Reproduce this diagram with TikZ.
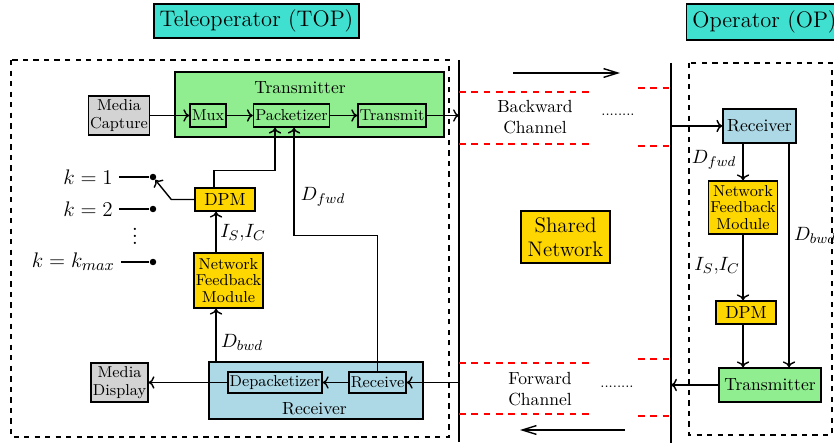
\documentclass[tikz,border=0pt]{standalone}
\usepackage{fontspec}
\usetikzlibrary{arrows.meta}

\definecolor{turq}{HTML}{40E0D0}
\definecolor{txgreen}{HTML}{90EE90}
\definecolor{rxblue}{HTML}{ADD8E6}
\definecolor{gold}{HTML}{FFD700}
\definecolor{mediagrey}{HTML}{D3D3D3}

\begin{document}
\begin{tikzpicture}[x=0.02cm, y=-0.02cm,
  blk/.style={draw, thick, align=center, inner sep=1pt},
  sub/.style={blk, font=\small, minimum height=0.46cm},
  three/.style={font=\fontsize{9}{9.6}\selectfont},
  two/.style={font=\fontsize{9}{10}\selectfont},
  title/.style={draw, thick, fill=turq, font=\fontsize{12.8}{15}\selectfont},
  chan/.style={red, line width=1.1pt, dash pattern=on 3.8pt off 3.2pt},
  flow/.style={thick, ->},
  big/.style={thick, -{Straight Barb[length=8pt,width=5pt]}},
  pin/.style={circle, fill, inner sep=1.3pt},
  lbl/.style={font=\fontsize{11}{13}\selectfont},
  klbl/.style={font=\fontsize{13}{15}\selectfont, anchor=east}]

\useasboundingbox (0,0) rectangle (834,445);

% titles
\node[title, minimum width=4.1cm, minimum height=0.68cm] (top) at (256.5,21) {Teleoperator (TOP)};
\node[title, minimum width=3.1cm, minimum height=0.72cm] (op) at (764.5,22) {Operator (OP)};

% the two sides
\draw[semithick, dashed] (11,60) rectangle (449,437);
\draw[semithick, dashed] (689,63) rectangle (832,435);

% network channel
\coordinate (chLt) at (459,60);
\coordinate (chLb) at (459,442);
\coordinate (chRt) at (671,63);
\coordinate (chRb) at (671,443);
\draw[thick] (chLt) -- (chLb);
\draw[thick] (chRt) -- (chRb);

\foreach \y in {92,144,363,414}
  \draw[chan] (459,\y) -- (593,\y);
\foreach \y in {88,146,359,416}
  \draw[chan] (638,\y) -- (671,\y);

\coordinate (bwA) at (513,73);
\coordinate (bwB) at (620,73);
\coordinate (fwA) at (625,430);
\coordinate (fwB) at (520,430);
\draw[big] (bwA) -- (bwB);
\draw[big] (fwA) -- (fwB);

\node[align=center] (bwch) at (535,117) {Backward\\Channel};
\node[align=center] (fwch) at (540,389) {Forward\\Channel};
\node[font=\footnotesize] (bwdots) at (618,115) {........};
\node[font=\footnotesize] (fwdots) at (617,387) {........};
\node[blk, fill=gold, font=\large, minimum width=1.78cm, minimum height=1.04cm] (net) at (565.5,237) {Shared\\Network};

% teleoperator
\node[blk, fill=txgreen, minimum width=5.38cm, minimum height=1.3cm] (txL) at (309.5,104.5) {};
\node (txLlbl) at (300,88) {Transmitter};
\node[sub, minimum width=0.72cm] (mux) at (208,115.5) {Mux};
\node[sub, minimum width=1.5cm] (pack) at (291.5,115.5) {Packetizer};
\node[sub, minimum width=1.36cm] (tx) at (392,115.5) {Transmit};
\node[blk, fill=mediagrey, two, minimum width=1.2cm, minimum height=0.78cm] (cap) at (119,115.5) {Media\\Capture};

\node[blk, fill=rxblue, minimum width=4.28cm, minimum height=1.14cm] (rxL) at (316,390.5) {};
\node (rxLlbl) at (314.5,409) {Receiver};
\node[sub, minimum width=1.84cm, minimum height=0.42cm] (depack) at (275,382.5) {Depacketizer};
\node[sub, minimum width=1.14cm, minimum height=0.42cm] (rcv) at (377.5,382.5) {Receive};
\node[blk, fill=mediagrey, two, minimum width=1.1cm, minimum height=0.78cm] (disp) at (119.5,382.5) {Media\\Display};

\node[blk, fill=gold, minimum width=1.2cm, minimum height=0.46cm] (dpmL) at (225,199.5) {DPM};
\node[blk, fill=gold, three, minimum width=1.38cm, minimum height=1.1cm] (nfmL) at (228.5,280.5) {Network\\Feedback\\Module};

\node[pin] (k1) at (153,177) {};
\node[pin] (k2) at (153,209) {};
\node[pin] (kmax) at (153,262) {};
\node[klbl] (k1lbl) at (119,177) {$k=1$};
\node[klbl] (k2lbl) at (119,209) {$k=2$};
\node[klbl] (kmaxlbl) at (121,262) {$k=k_{max}$};
\node[font=\fontsize{13}{15}\selectfont] (kdots) at (135,231) {$\vdots$};

\node[lbl] (dfL) at (323,197) {$D_{fwd}$};
\node[lbl] (icL) at (243,233) {$I_S$,$I_C$};
\node[lbl] (dbL) at (242,342) {$D_{bwd}$};

\draw[flow] (cap) -- (mux);
\draw[flow] (mux) -- (pack);
\draw[flow] (pack) -- (tx);
\draw[flow] (tx) -- (tx -| chLt);
\draw[flow] ([xshift=-0.22cm]dpmL.north) -- ++(0,-17) -| ([xshift=-0.33cm]pack.south);
\draw[flow] (rcv.north) -- ++(0,-136) -| ([xshift=0.05cm]pack.south);
\draw[flow] (dpmL.west) -- ++(-23,0) -- (k1);
\draw[thick] (k1lbl.east) -- (k1);
\draw[thick] (k2lbl.east) -- (k2);
\draw[thick] (kmaxlbl.east) -- (kmax);
\draw[flow] ([xshift=-2cm]rxL.north) coordinate (dbot) -- (dbot |- nfmL.south);
\draw[flow] (dbot |- nfmL.north) -- (dbot |- dpmL.south);
\draw[flow] (rcv.east -| chLt) -- (rcv);
\draw[flow] (rcv) -- (depack);
\draw[flow] (depack) -- (disp);

% operator
\node[blk, fill=rxblue, minimum width=1.46cm, minimum height=0.68cm] (rxR) at (759.5,126) {Receiver};
\node[blk, fill=gold, three, minimum width=1.38cm, minimum height=1.06cm] (nfmR) at (743,207.5) {Network\\Feedback\\Module};
\node[blk, fill=gold, minimum width=1.2cm, minimum height=0.46cm] (dpmR) at (746,312.5) {DPM};
\node[blk, fill=txgreen, minimum width=2.04cm, minimum height=0.68cm] (txR) at (770,385) {Transmitter};

\node[lbl] (dfR) at (714,160) {$D_{fwd}$};
\node[lbl] (icR) at (717,266) {$I_S$,$I_C$};
\node[lbl] (dbR) at (815,235) {$D_{bwd}$};

\draw[flow] (rxR.west -| chRt) -- (rxR);
\draw[flow] (rxR.south -| nfmR) -- (nfmR);
\draw[flow] (nfmR) -- (nfmR |- dpmR.north);
\draw[flow] (nfmR |- dpmR.south) -- (nfmR |- txR.north);
\draw[flow] ([xshift=0.59cm]rxR.south) coordinate (dbtop) -- (dbtop |- txR.north);
\draw[flow] (txR) -- (txR -| chRt);

\end{tikzpicture}
\end{document}
